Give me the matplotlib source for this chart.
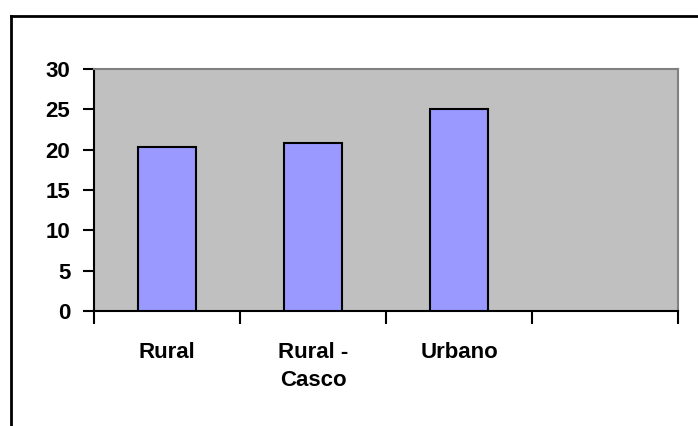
import matplotlib
matplotlib.use('Agg')
from matplotlib import pyplot as plt
from matplotlib.lines import Line2D

# data
categories = ['Rural', 'Rural -\nCasco', 'Urbano', '']
values = [20.3, 20.8, 25.0, 0]
y_ticks = [0, 5, 10, 15, 20, 25, 30]

plt.rcParams['font.family'] = ['Liberation Sans', 'DejaVu Sans']
plt.rcParams['font.weight'] = 'bold'

fig = plt.figure(figsize=(6.98, 4.26), dpi=100)
ax = fig.add_axes([94/698, 115/426, 584/698, 242/426])
ax.set_facecolor('#C0C0C0')

x = list(range(len(categories)))
ax.bar(x[:3], values[:3], width=0.4, color='#9999FF', edgecolor='black', linewidth=1.5, zorder=3)

ax.set_xlim(-0.5, len(categories) - 0.5)
ax.set_ylim(0, 30)
ax.set_yticks(y_ticks)
ax.set_xticks([i - 0.5 for i in range(len(categories) + 1)])
ax.set_xticklabels([])
ax.set_xticks(x, minor=True)
ax.set_xticklabels(categories, minor=True, fontsize=16, fontweight='bold', linespacing=1.45)
ax.tick_params(axis='x', which='minor', length=0, pad=22)
ax.tick_params(axis='x', which='major', direction='out', length=9, width=1.5)
ax.tick_params(axis='y', direction='out', length=8, width=1.5, labelsize=16, pad=9)

for s in ['left', 'bottom']:
	ax.spines[s].set_linewidth(1.5)
	ax.spines[s].set_color('black')
for s in ['top', 'right']:
	ax.spines[s].set_linewidth(1.5)
	ax.spines[s].set_color('#808080')

# outer chart border (cut off at right and bottom)
fig.add_artist(Line2D([11/698, 11/698], [-0.1, 1 - 16/426], color='black', linewidth=2, transform=fig.transFigure))
fig.add_artist(Line2D([11/698, 1.1], [1 - 16/426, 1 - 16/426], color='black', linewidth=2, transform=fig.transFigure))

plt.savefig('out.png', format='png')
